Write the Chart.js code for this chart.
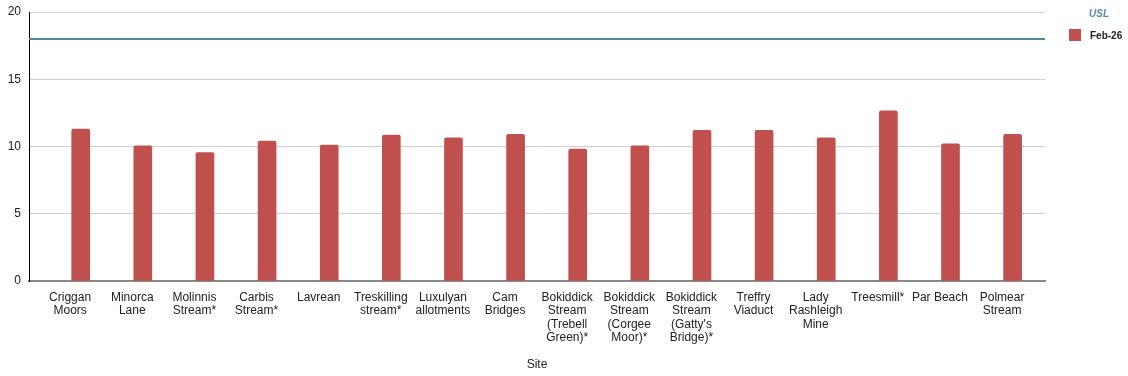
<!DOCTYPE html>
<html>
<head>
<meta charset="utf-8">
<script src="https://cdn.jsdelivr.net/npm/chart.js@4/dist/chart.umd.min.js"></script>
<style>
  body { margin: 0; background: #fff; font-family: "Liberation Sans", Arial, sans-serif; }
  #wrap { position: relative; width: 1128px; height: 376px; }
  #legend { position: absolute; left: 1069px; top: 8px; font-size: 10px; font-weight: bold; }
  .usl { color: #5b8ea0; font-style: italic; margin-left: 20px; }
  .feb { margin-top: 10px; display: flex; align-items: center; color: #222; }
  .sw { width: 12px; height: 12px; background: #c0504d; margin-right: 9px; }
</style>
</head>
<body>
<div id="wrap">
  <canvas id="grafico" width="1128" height="376"></canvas>
  <div id="legend">
    <div class="usl">USL</div>
    <div class="feb"><span class="sw"></span>Feb-26</div>
  </div>
</div>
<script>
// Sitios y valores de feb-26
const sitios = [
  ["Criggan", "Moors"], ["Minorca", "Lane"], ["Molinnis", "Stream*"], ["Carbis", "Stream*"],
  ["Lavrean"], ["Treskilling", "stream*"], ["Luxulyan", "allotments"], ["Cam", "Bridges"],
  ["Bokiddick", "Stream", "(Trebell", "Green)*"], ["Bokiddick", "Stream", "(Corgee", "Moor)*"],
  ["Bokiddick", "Stream", "(Gatty's", "Bridge)*"], ["Treffry", "Viaduct"],
  ["Lady", "Rashleigh", "Mine"], ["Treesmill*"], ["Par Beach"], ["Polmear", "Stream"]
];
const feb26 = [11.3, 10.05, 9.55, 10.4, 10.1, 10.85, 10.65, 10.9, 9.8, 10.05, 11.2, 11.2, 10.65, 12.65, 10.2, 10.9];
const usl = 18;
const yTicks = [0, 5, 10, 15, 20];

// rango del eje x (indices de sitio) y desplazamiento de las etiquetas
const X_MIN = -0.832;
const X_MAX = 15.521;
const LABEL_SHIFT = -0.17;

const ctx = document.getElementById("grafico").getContext("2d");
new Chart(ctx, {
  type: "bar",
  data: {
    datasets: [
      {
        label: "Feb-26",
        data: feb26.map((v, i) => ({ x: i, y: v })),
        backgroundColor: "#c0504d",
        barThickness: 18,
        borderRadius: { topLeft: 2, topRight: 2 },
        borderSkipped: "bottom"
      },
      {
        type: "line",
        label: "USL",
        data: [{ x: X_MIN, y: usl }, { x: X_MAX, y: usl }],
        borderColor: "#4f8a9c",
        borderWidth: 2,
        pointRadius: 0
      }
    ]
  },
  options: {
    responsive: false,
    animation: false,
    layout: { padding: { top: 12, right: 83, bottom: 0, left: 0 } },
    plugins: { legend: { display: false }, tooltip: { enabled: false } },
    scales: {
      x: {
        type: "linear",
        offset: false,
        min: X_MIN, max: X_MAX,
        afterBuildTicks: (s) => { s.ticks = sitios.map((_, i) => ({ value: i + LABEL_SHIFT })); },
        grid: { display: false, drawTicks: false, offset: false },
        border: { color: "#888", width: 2 },
        ticks: {
          autoSkip: false, maxRotation: 0, padding: 10,
          color: "#222", font: { family: "Liberation Sans", size: 12, lineHeight: 1.12 },
          callback: (v) => sitios[Math.round(v - LABEL_SHIFT)]
        },
        title: {
          display: true, text: "Site", color: "#222",
          font: { family: "Liberation Sans", size: 12 },
          padding: { top: 4, bottom: 4 }
        },
        afterFit: (s) => { s.height = 95; s.paddingLeft = 0; s.paddingRight = 0; }
      },
      y: {
        min: 0, max: 20,
        afterBuildTicks: (s) => { s.ticks = yTicks.map((v) => ({ value: v })); },
        grid: { color: "#d0d0d0", drawTicks: false },
        border: { color: "#000", width: 1 },
        ticks: { padding: 8, color: "#222", font: { family: "Liberation Sans", size: 12 } },
        afterFit: (s) => { s.width = 29; s.paddingTop = 0; s.paddingBottom = 0; }
      }
    }
  }
});
</script>
</body>
</html>
